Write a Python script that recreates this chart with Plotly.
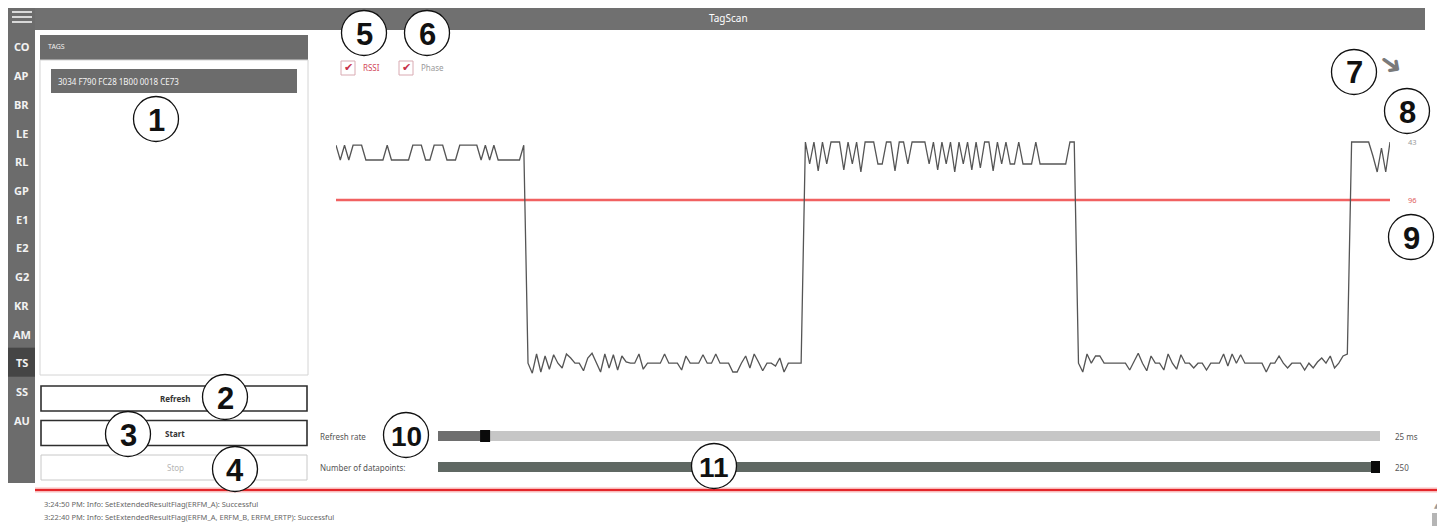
import plotly.graph_objects as go

W, H = 1445, 526
OFF = 8                      # page body margin that the browser adds around the plot
FW, FH = W - OFF, H - OFF
FONT = "Noto Sans, Open Sans, sans-serif"

# ---- signal trace (RSSI), in order ----
seg_a = [42.2, 38.5, 42.2, 38.5, 42.2, 42.2, 42.2, 38.5, 38.5, 38.5,
         38.5, 38.5, 42.2, 38.5, 38.5, 38.5, 38.5, 38.5, 42.2, 42.2,
         42.2, 38.5, 38.5, 42.2, 42.2, 42.2, 38.5, 38.5, 38.5, 42.2,
         42.2, 42.2, 42.2, 42.2, 38.5, 42.2, 38.5, 42.2, 38.5, 38.5,
         38.5, 38.5, 38.5, 38.5, 42.2]
seg_b = [-12.3, -14.8, -10.0, -14.5, -10.5, -13.8, -10.2, -12.3, -13.5, -10.0,
         -11.0, -12.3, -12.3, -14.2, -11.0, -9.8, -12.0, -14.5, -10.0, -13.5,
         -10.2, -14.0, -10.5, -12.0, -12.3, -12.3, -10.0, -13.8, -12.3, -12.3,
         -12.3, -12.3, -10.0, -12.3, -12.3, -12.3, -14.0, -10.5, -12.3, -12.3,
         -12.3, -10.2, -12.3, -12.3, -10.0, -12.3, -12.3, -12.3, -14.5, -14.5,
         -12.3, -10.5, -13.5, -10.0, -12.0, -14.2, -12.3, -12.3, -13.0, -11.0,
         -14.5, -12.3, -12.3, -12.3, -12.3]
seg_c = [43, 37.5, 43, 35.8, 43, 37.5, 43, 43, 43, 36.0,
         43, 37.5, 43, 35.5, 43, 43, 43, 37.5, 37.5, 43,
         43, 35.8, 43, 43, 37.5, 43, 43, 43, 43, 37.5,
         43, 36.0, 43, 37.5, 43, 35.5, 43, 37.5, 43, 36.0,
         43, 36.5, 43, 43, 35.8, 43, 37.5, 43, 37.5, 37.5,
         43, 37.5, 37.5, 37.5, 43, 37.5, 37.5, 37.5, 37.5, 37.5,
         37.5, 37.5, 43, 43]
seg_d = [-12.3, -14.5, -10.0, -12.3, -10.5, -10.5, -12.3, -12.3, -12.3, -12.3,
         -12.3, -12.3, -14.0, -12.0, -9.8, -12.3, -14.2, -10.5, -12.3, -12.3,
         -14.0, -10.0, -12.3, -13.8, -10.2, -12.3, -12.3, -13.5, -12.3, -12.3,
         -14.0, -12.3, -12.3, -12.3, -10.0, -13.0, -10.0, -12.3, -10.2, -12.3,
         -12.3, -12.3, -12.3, -12.3, -14.5, -12.3, -12.3, -10.5, -12.3, -13.5,
         -12.3, -12.3, -12.3, -14.0, -12.3, -13.5, -12.0, -11.0, -12.3, -10.5,
         -13.5, -12.3, -10.5, -10.0]
seg_e = [43, 43, 43, 43, 43, 39.5, 35.5, 41.5, 35.5, 43]
rssi = seg_a + seg_b + seg_c + seg_d + seg_e
threshold = 28.5
max_label, thr_label = "43", "96"

nav_items = ["CO", "AP", "BR", "LE", "RL", "GP", "E1", "E2", "G2", "KR", "AM", "TS", "SS", "AU"]
active_nav = "TS"
tag_ids = ["3034 F790 FC28 1B00 0018 CE73"]
buttons = ["Refresh", "Start", "Stop"]
refresh_ms, refresh_max = 25, 500
n_points, n_points_max = 250, 250
log_lines = ["3:24:50 PM: Info: SetExtendedResultFlag(ERFM_A): Successful",
             "3:22:40 PM: Info: SetExtendedResultFlag(ERFM_A, ERFM_B, ERFM_ERTP): Successful"]
callouts = [("1", 156, 119), ("2", 225, 397), ("3", 128, 434), ("4", 235, 469),
            ("5", 364, 33), ("6", 427, 33), ("7", 1354, 72), ("8", 1407, 111),
            ("9", 1411, 237), ("10", 406, 435), ("11", 714, 466)]

shapes, notes = [], []
# screen pixel -> paper fraction
def X(px): return (px - OFF) / FW
def Y(py): return 1 - (py - OFF) / FH

def box(x0, y0, x1, y1, fill="rgba(0,0,0,0)", line=None, lw=1):
    shapes.append(dict(type="rect", xref="paper", yref="paper",
                       x0=X(x0), x1=X(x1), y0=Y(y1), y1=Y(y0), fillcolor=fill,
                       line=dict(color=line or "rgba(0,0,0,0)", width=lw if line else 0)))

def hline(x0, x1, y, color, w):
    shapes.append(dict(type="line", xref="paper", yref="paper", x0=X(x0), x1=X(x1),
                       y0=Y(y), y1=Y(y), line=dict(color=color, width=w)))

def text(x, y, s, size=9, color="#555", anchor="left", family=FONT, angle=0):
    notes.append(dict(x=X(x), y=Y(y), xref="paper", yref="paper", text=s, showarrow=False,
                      xanchor=anchor, yanchor="middle", textangle=angle,
                      font=dict(size=size, color=color, family=family)))

# top bar + sidebar
box(8, 2, 1425, 30, "#707070")
text(728, 18, "TagScan", 10, "#ffffff", "center")
box(8, 2, 35, 483, "#6c6c6c")
for yy in (12, 17, 22):
    hline(12, 32, yy, "#d8d8d8", 2)
for i, item in enumerate(nav_items):
    cy = 47 + i * 28.7
    if item == active_nav:
        box(8, cy - 15, 35, cy + 14, "#454545")
    text(21.5, cy, f"<b>{item}</b>", 11, "#f2f2f2", "center")

# tags panel
box(40, 35, 308, 60, "#6c6c6c")
text(46, 47, "TAGS", 7, "#f0f0f0")
box(40, 60, 308, 375, "#ffffff", "#d4d4d4", 1)
box(51, 69, 297, 93, "#6c6c6c")
for k, tid in enumerate(tag_ids):
    text(56, 81 + k * 24, tid, 8, "#f4f4f4")

# buttons
for k, b in enumerate(buttons):
    y0 = 386 + k * 34.5
    active = b != "Stop"
    box(41, y0, 307, y0 + 25, "#ffffff", "#2e2e2e" if active else "#c8c8c8", 1.6 if active else 1)
    text(175, y0 + 12.5, f"<b>{b}</b>" if active else b, 8, "#333" if active else "#b5b5b5", "center")

# checkboxes
for (cx, lab, col) in [(348, "RSSI", "#d2475a"), (406, "Phase", "#9a9a9a")]:
    box(cx - 7, 61, cx + 7, 75, "#ffffff", "#d9aab2", 1)
    text(cx, 67, "✔", 11, "#c8324a", "center", "DejaVu Sans")
    text(cx + 13, 68, lab, 8, col)
text(1391, 63, "➜", 28, "#7a7a7a", "center", "DejaVu Sans", 35)

# sliders
t0, t1 = 438, 1380
text(318, 436, "Refresh rate", 8, "#555")
box(t0, 431, t1, 441, "#c6c6c6")
pos = t0 + (t1 - t0) * refresh_ms / refresh_max
box(t0, 431, pos, 441, "#6e6e6e")
box(pos - 5, 430, pos + 5, 442, "#0a0a0a")
text(1393, 436, f"{refresh_ms} ms", 8, "#555")
text(318, 467, "Number of datapoints:", 8, "#555")
pos = t0 + (t1 - t0) * n_points / n_points_max
box(t0, 462, pos, 472, "#5f6863")
box(pos - 9, 461, pos, 473, "#0a0a0a")
text(1393, 467, f"{n_points}", 8, "#555")

# log area
hline(35, 1442, 490, "rgba(235,60,60,0.35)", 5)
hline(35, 1442, 490, "#e4262a", 2)
for k, line in enumerate(log_lines):
    text(42, 504 + k * 13, line, 7.5, "#666")
text(1437, 506, "▲", 7, "#999", "center", "DejaVu Sans")
box(1432, 513, 1442, 526, "#b5b5b5")

# plot traces
fig = go.Figure()
fig.add_trace(go.Scatter(x=list(range(len(rssi))), y=[threshold] * len(rssi), mode="lines",
                         line=dict(color="rgba(240,80,80,0.9)", width=2.5), hoverinfo="skip"))
fig.add_trace(go.Scatter(x=list(range(len(rssi))), y=rssi, mode="lines",
                         line=dict(color="#555555", width=1.3), name="RSSI"))
notes.append(dict(x=X(1412), y=43, xref="paper", yref="y", text=max_label, showarrow=False,
                  xanchor="center", font=dict(size=7.5, color="#9a9a9a", family=FONT)))
notes.append(dict(x=X(1412), y=threshold, xref="paper", yref="y", text=thr_label, showarrow=False,
                  xanchor="center", font=dict(size=7.5, color="#e06060", family=FONT)))

# numbered callouts on top
for num, cx, cy in callouts:
    r = 22.5
    shapes.append(dict(type="circle", xref="paper", yref="paper", x0=X(cx - r), x1=X(cx + r),
                       y0=Y(cy + r), y1=Y(cy - r), fillcolor="#ffffff",
                       line=dict(color="#111", width=1.3)))
    notes.append(dict(x=X(cx), y=Y(cy + 1), xref="paper", yref="paper", text=f"<b>{num}</b>",
                      showarrow=False, xanchor="center", yanchor="middle",
                      font=dict(size=31 if len(num) == 1 else 28, color="#111",
                                family="Liberation Sans, Arial, sans-serif")))

y_lo, y_hi = 43 - (380 - 142) / 4, 43 + (142 - 135) / 4
fig.update_layout(
    width=FW, height=FH, autosize=False, showlegend=False,
    margin=dict(l=0, r=0, t=0, b=0, pad=0),
    paper_bgcolor="#ffffff", plot_bgcolor="rgba(0,0,0,0)",
    xaxis=dict(domain=[X(336), X(1390)], range=[0, len(rssi) - 1], visible=False),
    yaxis=dict(domain=[Y(380), Y(135)], range=[y_lo, y_hi], visible=False),
    shapes=shapes, annotations=notes,
)
fig.write_html("out.html")
